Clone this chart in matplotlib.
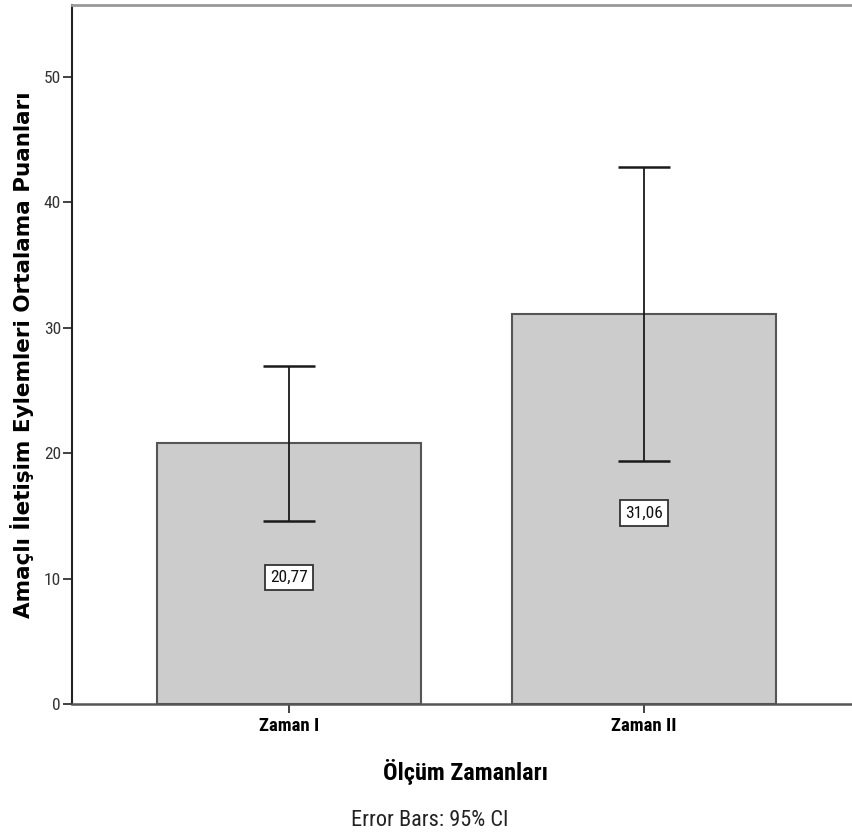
import matplotlib.pyplot as plt
from matplotlib import font_manager

# means and 95% CI limits per measurement time
groups = ["Zaman I", "Zaman II"]
means = [20.77, 31.06]
ci_low = [14.58, 19.39]
ci_high = [26.96, 42.81]
yticks = [0, 10, 20, 30, 40, 50]

installed = {f.name for f in font_manager.fontManager.ttflist}


def pick(*fams):
    for fam in fams:
        if fam in installed:
            return fam
    return "DejaVu Sans"


narrow = pick("Roboto Condensed", "Liberation Sans Narrow", "Barlow Semi Condensed")
wide = pick("DejaVu Sans")

fig = plt.figure(figsize=(8.53, 8.39), dpi=100)
ax = fig.add_axes([72 / 853, 135 / 839, 789 / 853, 699 / 839])

x = list(range(len(groups)))
ax.bar(x, means, width=0.746, color="#cccccc", edgecolor="#555555", linewidth=1.5, zorder=2)

err_lo = [m - l for m, l in zip(means, ci_low)]
err_hi = [h - m for m, h in zip(means, ci_high)]
ax.errorbar(x, means, yerr=[err_lo, err_hi], fmt="none", ecolor="#1a1a1a",
            elinewidth=1.3, capsize=18.7, capthick=1.8, zorder=3)

# value labels in the middle of each bar
for xi, m in zip(x, means):
    ax.text(xi, m / 2 - 0.3, f"{m:.2f}".replace(".", ","), ha="center", va="center",
            fontsize=12.5, family=narrow, color="#111111", zorder=4,
            bbox=dict(boxstyle="square,pad=0.3", facecolor="white",
                      edgecolor="#333333", linewidth=1.3))

ax.set_xlim(-0.611, 1.611)
ax.set_ylim(0, 55.7)
ax.set_yticks(yticks)
ax.set_xticks(x)
ax.set_xticklabels(groups, family=narrow, fontweight="bold", fontsize=13.5)
ax.tick_params(axis="y", labelsize=12.5, labelcolor="#333333", length=6.5, width=1.3,
               color="#333333", pad=1.5)
ax.tick_params(axis="x", length=6.5, width=1.3, color="#333333", pad=3)
for lab in ax.get_yticklabels():
    lab.set_family(narrow)

ax.spines["right"].set_visible(False)
ax.spines["top"].set_color("#999999")
ax.spines["top"].set_linewidth(2)
ax.spines["left"].set_color("#222222")
ax.spines["left"].set_linewidth(1.5)
ax.spines["bottom"].set_color("#555555")
ax.spines["bottom"].set_linewidth(1.8)

ax.set_ylabel("Amaçlı İletişim Eylemleri Ortalama Puanları", family=wide,
              fontweight="bold", fontsize=15.5, va="center")
ax.yaxis.set_label_coords(-0.064, 0.5)
ax.set_xlabel("Ölçüm Zamanları", family=narrow, fontweight="bold", fontsize=17.5, va="center")
ax.xaxis.set_label_coords((466 - 72) / 789, -(772 - 704) / 699)

fig.text(430 / 853, 1 - 820 / 839, "Error Bars: 95% CI", ha="center", va="center",
         family=narrow, fontsize=16, color="#222222")

fig.savefig("out.png", dpi=100)
